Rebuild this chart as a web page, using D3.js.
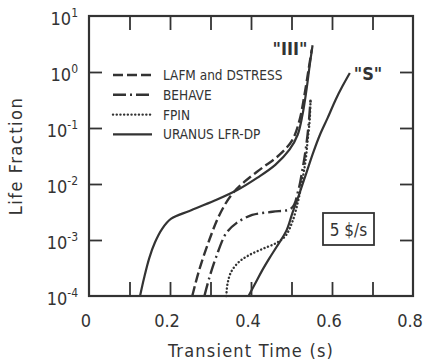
<!DOCTYPE html>
<html>
<head>
<meta charset="utf-8">
<script src="https://cdn.jsdelivr.net/npm/d3@7"></script>
<style>
  body { margin: 0; background: #fff; }
  text { font-family: "DejaVu Sans Condensed", "DejaVu Sans"; font-stretch: condensed; fill: #333; }
</style>
</head>
<body>
<svg width="429" height="363"></svg>
<script>
// values (time in s, life fraction)
const xTickLabels = [0, 0.2, 0.4, 0.6, 0.8];
const xMinorTicks = [0.1, 0.2, 0.3, 0.4, 0.5, 0.6, 0.7];
const yExponents = [-4, -3, -2, -1, 0, 1];

const lafmTime = [0.255, 0.272, 0.297, 0.322, 0.351, 0.384, 0.426, 0.470, 0.502, 0.520, 0.532, 0.542, 0.550];
const lafmLife = [1e-4, 2.9e-4, 1.0e-3, 2.8e-3, 6.3e-3, 0.011, 0.019, 0.033, 0.061, 0.14, 0.39, 1.09, 2.5];

const behaveTime = [0.285, 0.297, 0.314, 0.339, 0.364, 0.403, 0.453, 0.500, 0.517, 0.527, 0.535, 0.542, 0.547];
const behaveLife = [1e-4, 2.1e-4, 5.0e-4, 1.33e-3, 2.0e-3, 2.8e-3, 3.2e-3, 3.7e-3, 7.8e-3, 0.018, 0.041, 0.11, 0.32];

const fpinTime = [0.339, 0.342, 0.351, 0.371, 0.396, 0.428, 0.463, 0.485, 0.502, 0.517, 0.527, 0.535, 0.540, 0.545, 0.547];
const fpinLife = [1e-4, 1.64e-4, 2.7e-4, 4.1e-4, 5.4e-4, 6.9e-4, 8.9e-4, 1.18e-3, 2.1e-3, 5.2e-3, 0.012, 0.027, 0.061, 0.14, 0.32];

const uranusTime = [0.126, 0.136, 0.149, 0.163, 0.181, 0.203, 0.248, 0.309, 0.366, 0.416, 0.460, 0.495, 0.515, 0.527, 0.537, 0.545, 0.552];
const uranusLife = [1e-4, 2.1e-4, 4.8e-4, 9.1e-4, 1.6e-3, 2.4e-3, 3.3e-3, 5.0e-3, 7.8e-3, 0.013, 0.022, 0.041, 0.075, 0.17, 0.48, 1.33, 3.0];

const sTime = [0.394, 0.411, 0.428, 0.446, 0.463, 0.488, 0.502, 0.520, 0.537, 0.554, 0.569, 0.589, 0.609, 0.626, 0.644];
const sLife = [1e-4, 1.7e-4, 2.9e-4, 4.8e-4, 7.5e-4, 1.5e-3, 3.0e-3, 6.9e-3, 0.016, 0.037, 0.072, 0.15, 0.32, 0.56, 0.96];

const legendNames = ["LAFM and DSTRESS", "BEHAVE", "FPIN", "URANUS LFR-DP"];

var svg = d3.select("svg");
// plot box (note: "top" is reserved on window, so use prefixed names)
var pLeft = 89, pRight = 413, pTop = 16, pBottom = 296;
var ink = "#333";

var x = d3.scaleLinear().domain([0, 0.8]).range([pLeft, pRight]);
var y = d3.scaleLog().domain([1e-4, 10]).range([pBottom, pTop]);

function zip(t, v) { return t.map((d, i) => [d, v[i]]); }

var styles = {
    dashed: { dash: "10,4", cap: "butt", w: 2.4 },
    dashdot: { dash: "13,4,2,4", cap: "butt", w: 2.4 },
    dotted: { dash: "0.1,3.6", cap: "round", w: 2.4 },
    solid: { dash: null, cap: "butt", w: 2.2 }
};

var line = d3.line()
    .x(d => x(d[0]))
    .y(d => y(d[1]))
    .curve(d3.curveCatmullRom.alpha(0.5));

function drawCurve(t, v, s) {
    svg.append("path")
        .datum(zip(t, v))
        .attr("d", line)
        .attr("fill", "none")
        .attr("stroke", ink)
        .attr("stroke-width", styles[s].w)
        .attr("stroke-linecap", styles[s].cap)
        .attr("stroke-dasharray", styles[s].dash);
}

drawCurve(lafmTime, lafmLife, "dashed");
drawCurve(behaveTime, behaveLife, "dashdot");
drawCurve(fpinTime, fpinLife, "dotted");
drawCurve(uranusTime, uranusLife, "solid");
drawCurve(sTime, sLife, "solid");

// frame + inward ticks
svg.append("g")
    .attr("transform", "translate(0," + pBottom + ")")
    .call(d3.axisTop(x).tickValues(xMinorTicks).tickSize(14).tickFormat(""))
    .call(g => g.select(".domain").remove());
svg.append("g")
    .attr("transform", "translate(0," + pTop + ")")
    .call(d3.axisBottom(x).tickValues(xMinorTicks).tickSize(14).tickFormat(""))
    .call(g => g.select(".domain").remove());
var yVals = yExponents.slice(1, -1).map(e => Math.pow(10, e));
svg.append("g")
    .attr("transform", "translate(" + pLeft + ",0)")
    .call(d3.axisRight(y).tickValues(yVals).tickSize(13).tickFormat(""))
    .call(g => g.select(".domain").remove());
svg.append("g")
    .attr("transform", "translate(" + pRight + ",0)")
    .call(d3.axisLeft(y).tickValues(yVals).tickSize(13).tickFormat(""))
    .call(g => g.select(".domain").remove());
svg.selectAll(".tick line").attr("stroke", ink).attr("stroke-width", 1.8);

svg.append("rect")
    .attr("x", pLeft).attr("y", pTop)
    .attr("width", pRight - pLeft).attr("height", pBottom - pTop)
    .attr("fill", "none").attr("stroke", ink).attr("stroke-width", 2.2);

// tick labels
svg.selectAll("text.xl")
    .data(xTickLabels)
    .enter().append("text")
    .attr("class", "xl")
    .attr("x", d => x(d) - 3)
    .attr("y", 327)
    .attr("text-anchor", "middle")
    .attr("font-size", "18px")
    .text(d => d === 0 ? "0" : d3.format(".1f")(d));

var yl = svg.selectAll("text.yl")
    .data(yExponents)
    .enter().append("text")
    .attr("class", "yl")
    .attr("x", 78)
    .attr("y", d => y(Math.pow(10, d)) + 9)
    .attr("text-anchor", "end")
    .attr("font-size", "18px");
yl.append("tspan").text("10");
yl.append("tspan")
    .attr("dy", -8)
    .attr("font-size", "12px")
    .text(d => d < 0 ? "-" + (-d) : d);

// axis titles
svg.append("text")
    .attr("x", (pLeft + pRight) / 2)
    .attr("y", 357)
    .attr("text-anchor", "middle")
    .attr("font-size", "18px")
    .attr("letter-spacing", "1.2px")
    .text("Transient Time (s)");

svg.append("text")
    .attr("transform", "translate(22," + (pTop + pBottom) / 2 + ") rotate(-90)")
    .attr("text-anchor", "middle")
    .attr("font-size", "18px")
    .attr("letter-spacing", "1.5px")
    .text("Life Fraction");

// legend
var legendStyles = ["dashed", "dashdot", "dotted", "solid"];
var lg = svg.append("g").attr("transform", "translate(113,75)");
legendNames.forEach(function(name, i) {
    var s = styles[legendStyles[i]];
    lg.append("line")
        .attr("x1", 0).attr("x2", 39)
        .attr("y1", i * 19.8).attr("y2", i * 19.8)
        .attr("stroke", ink)
        .attr("stroke-width", s.w)
        .attr("stroke-linecap", s.cap)
        .attr("stroke-dasharray", s.dash);
    lg.append("text")
        .attr("x", 50)
        .attr("y", i * 19.8 + 5)
        .attr("font-size", "13.5px")
        .text(name);
});

// curve labels
svg.append("text")
    .attr("x", 290).attr("y", 55)
    .attr("text-anchor", "middle")
    .attr("font-family", "Liberation Serif")
    .attr("font-weight", "bold")
    .attr("font-size", "18px")
    .text("\"III\"");
svg.append("text")
    .attr("x", 368).attr("y", 80)
    .attr("text-anchor", "middle")
    .attr("font-family", "Liberation Serif")
    .attr("font-weight", "bold")
    .attr("font-size", "18px")
    .text("\"S\"");

// rate box
svg.append("rect")
    .attr("x", 323).attr("y", 213)
    .attr("width", 51).attr("height", 32)
    .attr("fill", "none").attr("stroke", ink).attr("stroke-width", 1.8);
svg.append("text")
    .attr("x", 348.5).attr("y", 236)
    .attr("text-anchor", "middle")
    .attr("font-size", "17px")
    .text("5 $/s");
</script>
</body>
</html>
